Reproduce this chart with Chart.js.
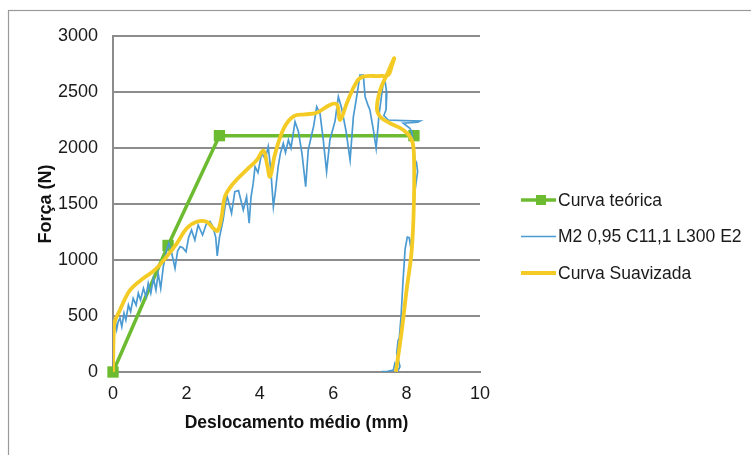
<!DOCTYPE html>
<html>
<head>
<meta charset="utf-8">
<script src="https://cdn.jsdelivr.net/npm/chart.js@4/dist/chart.umd.min.js"></script>
<style>
  html, body { margin: 0; padding: 0; background: #fff; }
  canvas { display: block; }
</style>
</head>
<body>
<canvas id="grafico" width="751" height="455"></canvas>
<script>
// curva teórica
const teoricaX = [0, 1.5, 2.9, 8.2];
const teoricaY = [0, 1130, 2110, 2110];

// ensaio M2 0,95 C11,1 L300 E2
const ensaioX = [0.00, 0.03, 0.07, 0.10, 0.14, 0.19, 0.24, 0.30, 0.35, 0.42, 0.48, 0.55, 0.63, 0.69, 0.75,
  0.83, 0.90, 0.96, 1.03, 1.10, 1.17, 1.23, 1.30, 1.37, 1.46, 1.52, 1.60, 1.69, 1.76, 1.83, 1.90, 1.99,
  2.06, 2.14, 2.23, 2.32, 2.44, 2.55, 2.64, 2.72, 2.80, 2.84, 2.90, 3.00, 3.10, 3.23, 3.32, 3.42, 3.55,
  3.64, 3.71, 3.76, 3.82, 3.87, 3.95, 4.05, 4.15, 4.23, 4.30, 4.37, 4.42, 4.50, 4.56, 4.64, 4.70, 4.78,
  4.85, 4.96, 5.05, 5.15, 5.25, 5.32, 5.40, 5.47, 5.55, 5.64, 5.72, 5.82, 5.91, 6.05, 6.14, 6.23, 6.35,
  6.46, 6.55, 6.64, 6.73, 6.82, 6.87, 6.95, 7.00, 7.10, 7.17, 7.25, 7.35, 7.41, 7.46, 7.44, 7.38, 7.50,
  7.90, 8.37, 8.30, 7.91, 8.09, 8.14, 8.18, 8.23, 8.27, 8.30, 8.22, 8.18, 8.11, 8.07, 8.02, 7.96, 7.90,
  7.85, 7.80, 7.77, 7.73, 7.82, 7.78, 7.68, 7.64, 7.46, 7.32];
const ensaioY = [0, 360, 440, 380, 450, 480, 405, 524, 464, 598, 539, 658, 598, 703, 643,
  747, 672, 792, 703, 837, 732, 881, 747, 940, 1090, 1150, 1060, 926, 1080, 1119, 1110, 1074,
  1200, 1268, 1179, 1313, 1223, 1328, 1345, 1300, 1200, 1036, 1200, 1357, 1580, 1417, 1610, 1620, 1447,
  1565, 1328, 1560, 1684, 1833, 1780, 1952, 1900, 2012, 1800, 1476, 1600, 1833, 1950, 2042, 1960, 2072,
  2000, 2235, 2150, 1950, 1655, 1982, 2100, 2200, 2369, 2310, 2100, 1789, 2072, 2240, 2458, 2355, 2150,
  1893, 2280, 2458, 2652, 2652, 2458, 2380, 2340, 2150, 1998, 2300, 2550, 2607, 2488, 2340, 2290, 2250,
  2245, 2241, 2230, 2221, 2176, 2146, 2042, 1893, 1870, 1790, 1600, 1300, 1119, 1200, 1205, 1100, 800,
  500, 300, 286, 167, 48, 20, 77, 18, 3, 3];

// curva suavizada
const suaveX = [0.00, 0.03, 0.19, 0.40, 0.55, 0.83, 1.14, 1.46, 1.74, 2.01, 2.28, 2.55, 2.73, 2.85, 2.96,
  3.05, 3.28, 3.64, 3.92, 4.10, 4.20, 4.28, 4.41, 4.66, 4.93, 5.23, 5.55, 5.91, 6.10, 6.19, 6.37, 6.64,
  6.82, 7.28, 7.50, 7.59, 7.66, 7.46, 7.28, 7.19, 7.28, 7.55, 7.91, 8.14, 8.20, 8.20, 8.14, 8.00, 7.87, 7.71];
const suaveY = [0, 420, 554, 700, 762, 837, 911, 1030, 1149, 1283, 1342, 1342, 1283, 1262, 1387,
  1565, 1684, 1804, 1893, 1975, 1850, 1744, 1940, 2180, 2285, 2300, 2315, 2384, 2390, 2250, 2400, 2592,
  2637, 2643, 2652, 2726, 2801, 2652, 2518, 2355, 2280, 2221, 2161, 2072, 1923, 1536, 1090, 732, 375, 3];

const forcaTicks = [0, 500, 1000, 1500, 2000, 2500, 3000];
const deslocTicks = [0, 2, 4, 6, 8, 10];

const nomes = ['Curva teórica', 'M2 0,95 C11,1 L300 E2', 'Curva Suavizada'];
const cores = ['#6cbb30', '#4b9bd2', '#f4cb24'];

const pontos = (xs, ys) => xs.map((x, i) => ({ x: x, y: ys[i] }));

const fonte = 'Liberation Sans';
const cinza = '#8c8c8c';

// moldura da área do gráfico
const moldura = {
    id: 'moldura',
    beforeDraw(chart) {
        const ctx = chart.ctx;
        ctx.save();
        ctx.fillStyle = '#fff';
        ctx.fillRect(0, 0, chart.width, chart.height);
        ctx.strokeStyle = '#9a9a9a';
        ctx.lineWidth = 1.2;
        ctx.strokeRect(8.5, 10.5, 900, 600);
        ctx.restore();
    }
};

// legenda à direita
const legendaLateral = {
    id: 'legendaLateral',
    afterDraw(chart) {
        const ctx = chart.ctx;
        ctx.save();
        chart.data.datasets.forEach((ds, i) => {
            const y = 200 + i * 36.5;
            ctx.strokeStyle = ds.borderColor;
            ctx.lineWidth = ds.borderWidth;
            ctx.beginPath();
            ctx.moveTo(521, y);
            ctx.lineTo(556, y);
            ctx.stroke();
            if (ds.pointRadius > 0) {
                ctx.fillStyle = ds.backgroundColor;
                ctx.fillRect(536, y - 5, 10, 10);
            }
            ctx.fillStyle = '#1a1a1a';
            ctx.font = '17.5px "' + fonte + '"';
            ctx.textBaseline = 'middle';
            ctx.textAlign = 'left';
            ctx.fillText(ds.label, 558, y + 1);
        });
        ctx.restore();
    }
};

const ctx = document.getElementById('grafico').getContext('2d');
new Chart(ctx, {
    type: 'line',
    data: {
        datasets: [
            {
                label: nomes[0],
                data: pontos(teoricaX, teoricaY),
                borderColor: cores[0],
                backgroundColor: cores[0],
                borderWidth: 3.5,
                pointStyle: 'rect',
                pointRadius: 8,
                pointBorderWidth: 0,
                clip: false,
                order: 3
            },
            {
                label: nomes[1],
                data: pontos(ensaioX, ensaioY),
                borderColor: cores[1],
                backgroundColor: cores[1],
                borderWidth: 1.7,
                pointRadius: 0,
                tension: 0,
                order: 2
            },
            {
                label: nomes[2],
                data: pontos(suaveX, suaveY),
                borderColor: cores[2],
                backgroundColor: cores[2],
                borderWidth: 3.8,
                pointRadius: 0,
                tension: 0.4,
                order: 1
            }
        ]
    },
    options: {
        responsive: false,
        animation: false,
        devicePixelRatio: 1,
        layout: { padding: { left: 0, top: 36, right: 271, bottom: 0 } },
        plugins: {
            legend: { display: false },
            tooltip: { enabled: false }
        },
        scales: {
            x: {
                type: 'linear',
                min: 0,
                max: 10,
                afterBuildTicks: s => { s.ticks = deslocTicks.map(v => ({ value: v })); },
                afterFit: s => { s.height = 83; },
                grid: { display: false, drawTicks: false },
                border: { display: true, color: cinza, width: 2 },
                ticks: { padding: 11, color: '#1a1a1a', font: { family: fonte, size: 18 }, callback: v => String(v) },
                title: {
                    display: true,
                    text: 'Deslocamento médio (mm)',
                    color: '#111',
                    font: { family: fonte, size: 17.5, weight: 'bold' },
                    padding: { top: 0, bottom: 21 }
                }
            },
            y: {
                type: 'linear',
                min: 0,
                max: 3000,
                afterBuildTicks: s => { s.ticks = forcaTicks.map(v => ({ value: v })); },
                afterFit: s => { s.width = 113; },
                grid: { color: cinza, lineWidth: 2, drawTicks: false },
                border: { display: true, color: cinza, width: 2 },
                ticks: { padding: 15, color: '#1a1a1a', font: { family: fonte, size: 18 }, callback: v => String(v) },
                title: {
                    display: true,
                    text: 'Força (N)',
                    color: '#111',
                    font: { family: fonte, size: 18, weight: 'bold' },
                    padding: { top: 35, bottom: 0 }
                }
            }
        }
    },
    plugins: [moldura, legendaLateral]
});
</script>
</body>
</html>
